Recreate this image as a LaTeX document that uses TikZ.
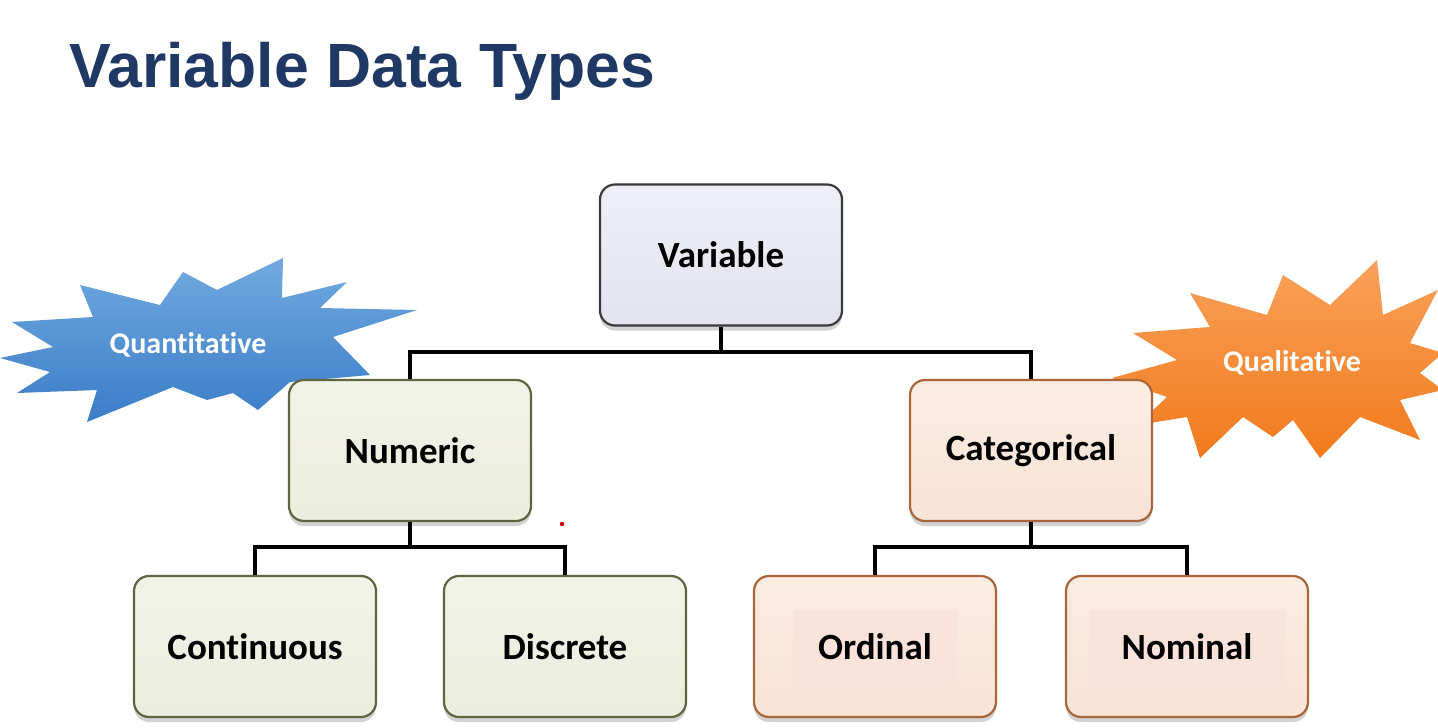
\documentclass[tikz,border=0pt]{standalone}
\usepackage{fontspec}
\setmainfont[RawFeature=-liga]{Carlito}
\newfontfamily\titlefont{Liberation Sans}
\usetikzlibrary{shadows}
\definecolor{titleblue}{HTML}{1F3864}
\definecolor{varfill}{HTML}{E4E4F1}
\definecolor{varfilltop}{HTML}{EEEEF7}
\definecolor{varline}{HTML}{3A3A3A}
\definecolor{numfill}{HTML}{EBEDDD}
\definecolor{numfilltop}{HTML}{F2F3E8}
\definecolor{numline}{HTML}{5E6640}
\definecolor{catfill}{HTML}{F9E4D6}
\definecolor{catfilltop}{HTML}{FBECE2}
\definecolor{catline}{HTML}{A8673A}
\definecolor{catinner}{HTML}{F9E3DA}
\definecolor{bluetop}{HTML}{72AADF}
\definecolor{bluebot}{HTML}{3A7CC8}
\definecolor{orangetop}{HTML}{F9A15A}
\definecolor{orangebot}{HTML}{F17A1C}
\tikzset{
  boxbase/.style={rounded corners=15pt, minimum width=242pt, minimum height=141pt,
    inner sep=0pt, line width=2.2pt, font=\bfseries\fontsize{37}{42}\selectfont,
    drop shadow={shadow xshift=0pt, shadow yshift=-5pt, opacity=0.35}},
  varbox/.style={boxbase, draw=varline, top color=varfilltop, bottom color=varfill},
  numbox/.style={boxbase, draw=numline, top color=numfilltop, bottom color=numfill},
  catbox/.style={boxbase, draw=catline, top color=catfilltop, bottom color=catfill},
  boxtext/.style={font=\bfseries\fontsize{37}{42}\selectfont},
  link/.style={line width=4pt, black},
  bursttext/.style={text=white, font=\bfseries\fontsize{30}{34}\selectfont}
}
\begin{document}
\begin{tikzpicture}[x=1pt,y=-1pt]
\useasboundingbox (0,0) rectangle (1438,728);
\fill[white] (0,0) rectangle (1438,728);
\clip (0,0) rectangle (1438,728);

% title
\node[anchor=base west, inner sep=0pt, text=titleblue,
  font=\titlefont\bfseries\fontsize{62.5}{70}\selectfont] (title) at (69,87) {Variable Data Types};

% blue starburst
\shade[top color=bluetop, bottom color=bluebot]
  (12,322) -- (93,317) -- (80,285) -- (160,305) -- (183,272) -- (217,290) --
  (283,258) -- (282,298) -- (347,282) -- (320,308) -- (417,310) -- (333,337) --
  (370,375) -- (290,382) -- (258,410) -- (233,393) -- (207,400) -- (173,387) --
  (87,422) -- (97,390) -- (17,393) -- (50,372) -- (0,358) -- (53,347) -- cycle;
\node[bursttext] (quant) at (188,345) {Quantitative};

% orange starburst
\shade[top color=orangetop, bottom color=orangebot]
  (1112,378) -- (1177,360) -- (1133,333) -- (1210,327) -- (1190,293) -- (1267,315) --
  (1283,275) -- (1330,305) -- (1377,260) -- (1383,315) -- (1438,290) -- (1410,343) --
  (1443,353) -- (1420,373) -- (1443,390) -- (1400,400) -- (1420,440) -- (1360,417) --
  (1320,458) -- (1293,420) -- (1273,437) -- (1243,417) -- (1200,458) -- (1187,417) --
  (1137,425) -- (1167,397) -- cycle;
\node[bursttext] (qual) at (1292,363) {Qualitative};

% connector junctions
\coordinate (j1) at (721,352);
\coordinate (j2) at (410,547);
\coordinate (j3) at (1031,547);

% boxes
\node[varbox] (var) at (721,255) {Variable};
\node[numbox] (num) at (410,450.5) {Numeric};
\node[catbox] (cat) at (1031,450.5) {Categorical};
\node[numbox] (cont) at (255,646.5) {Continuous};
\node[numbox] (disc) at (565,646.5) {Discrete};
\node[catbox] (ord) at (875,646.5) {};
\node[catbox] (nom) at (1187,646.5) {};
\fill[catinner] (ord.center) ++(-82,-37) rectangle ++(164,76);
\fill[catinner] (nom.center) ++(-98,-37) rectangle ++(196,76);
\node[boxtext] (ordt) at (ord.center) {Ordinal};
\node[boxtext] (nomt) at (nom.center) {Nominal};

\draw[link] (var.south) -- (j1);
\draw[link] (j1) -| (num.north);
\draw[link] (j1) -| (cat.north);
\draw[link] (num.south) -- (j2);
\draw[link] (j2) -| (cont.north);
\draw[link] (j2) -| (disc.north);
\draw[link] (cat.south) -- (j3);
\draw[link] (j3) -| (ord.north);
\draw[link] (j3) -| (nom.north);

% stray red dot
\fill[red!85!black] (562,524) circle (2.2pt);
\end{tikzpicture}
\end{document}
